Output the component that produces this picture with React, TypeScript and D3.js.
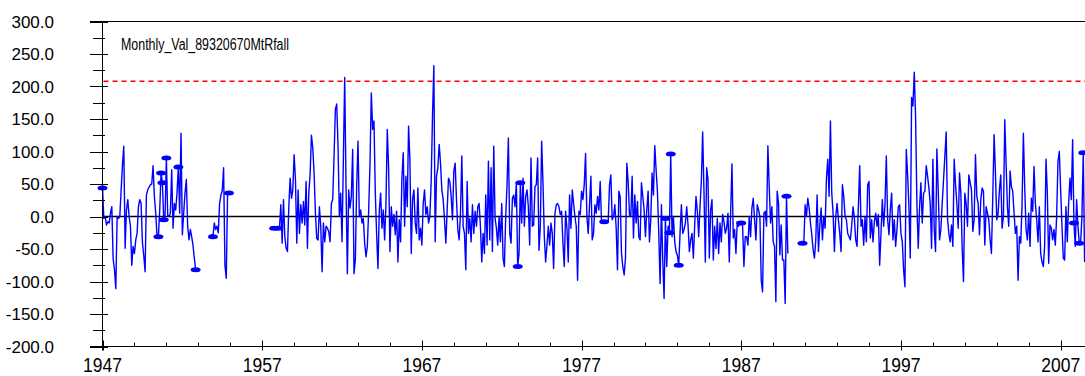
import React from "react";
import * as d3 from "d3";

// ---------- DATA ----------
const chartTitle = "Monthly_Val_89320670MtRfall";
const thresholdValue = 208;

const yLabelValues = [-200, -150, -100, -50, 0, 50, 100, 150, 200, 250, 300];
const xLabelYears = [1947, 1957, 1967, 1977, 1987, 1997, 2007];

// continuous runs of monthly values (start month, values)
const run1947Start = "1947-01";
const run1947Values = [
  44, -3, 0, -13, -8, -10, 5, 15, -65, -82, -111, 0,
  -3, 0, 40, 79, 108, -49, 10, 26, 0, -15, -75, -46,
  -57, -36, -26, 15, 26, 20, -40, -60, -85, 33, 41, 45,
  49, 50, 78, 30, 5, -31, -31, 10, 67, 52, -5, 0,
  90, 2, 0, 5, 72, -18, 20, 10, 36, 76, 5, 128,
  -28, 5, 36, 57, -15, -36, -20, -31, -44, -64, -82, -82,
];

const run1953Start = "1953-09";
const run1953Values = [-31, -31, -28, -31, -10, -20, -15, -25, 20, 33, 40, 75, -75, -95, 36, 36];

const run1957Start = "1957-08";
const run1957Values = [
  -18, -18, -18, -18, -18, -18, -18,
  18, -41, 26, -31, -49, -54, 15, 59, 28, 41, 95, 57, -41, 41, -26, 18, -10, 23, -13, 54, -49, 36, 64, 125,
  106, 67, 5, -34, -36, 15, -15, -85, -10, -39, -15, -18, -23, -39, 20, 26, 93, 165, 173, 108, 0, 36, -39, 88, 214,
  46, -88, 41, 13, 31, 103, -88, -67, 46, 116, 0, 10, -10, -3, -41, -62, -46, 8, 80, 190, 134, 147, 36, -28,
  -80, 10, 36, -18, 10, -36, 18, 134, 75, -54, 15, -15, 3, -28, 8, -70,
  -5,
  -39, 59, 98, -15, 62, 15, 139, 88, -57, 26, 41, -10, -26, 44, -36, -18, -44, 20, 41, 3, 15, -10, 0, 54, 157, 232, -39,
  62, 75, 111, 82, 41, 26, -5, -41, 10, 59, 54, 31, -5, 70, 82, 26, -20, -36, 5, 93, -15, -26, -82, 54, -26, -3,
  -39, 18, -26, 8, -15, 15, 20, -15, -70, -26, -57, 33, -44, 85, -36, 75, -54, 108, -3, -18, -44, 0, -39, 20, -64,
  -77, 0, 49, 121, -26, -41, 28, 33, 15, 52,
  -77, -57, 52, -10, 59, -15, 31, 41, 15, -44, 90, -15, -13, 46, 49, 90, -52, -15, 116, 52, -31, -70, -44, -15,
  -44, -10, -26, -80, 5, 18, 20, 15, 3, 8, -41, -77, 8, -18, -70, 33, -18, 41, 20, 0, -15, -98, 8, 3, 39, 26, 49,
  97, 0, -26, 18, 62, -36, -26, 18, 5, 31, 10, 54, -8, -8, -8, -8, -8, -8,
  49, 64, -5, 0, 18, -18, -82, 39, 31, -57, -77, -90, -64, 82, 54, 3, 0, 62, -33, 33, -10, 23, -31, -36, 52, 31,
  10, -31, 10, 39, -39, -5,
  67, 33, 109, 72, 39, -26, -103, 18, -67, -126, -3, -77, -15, -25, 96, -31, 0, -39, -54, -60, -75, -26, 18, -26,
  -20, -10, 15, -13, -54, -36, -26, -64, -13, 31, 8, -31, 15, 54, 130, 36, -70, 75, 57, -64, 10, 26, -67, -15, -49,
  -3, -57, -10, -39, 3, -8, -26, -18, 5, -70, 5, 81, -33, -20, -57, -8, -15, -10, -10, -15, -77, -31, -31, -44, 0,
  -31, 13, 28, -5, -36, 18, 10, 0, -98, -116, 5, 8, -15, 109, 46, -10, 15, -39, -46, -131, 39, 20, -59, -13, -67,
  -67, -134, 31, -57,
];

const run1990Start = "1990-11";
const run1990Values = [
  -41, -41, 18, 0, 28, 13, -10, -28, -51, -64, -36, 33, -54, -15, 13, -36, 0, -18, 59, 88, 31, 147, 36, 5, -54,
  0, 20, -5, -26, -54, 49, 31, 0, -5, -26, -31, -36, -13, 15, -3, -36, -46, 15, 78, -15, -5, -44, 0, -39, 49, 54,
  -33, -5, -39, -8, 5, -15, 3, -75, -26, 26, -15, 18, 93, -5, -28, 10, 36, -36, -5, -46, -20, 15, 18, -26, -39,
  -82, -108, 103, 64, 15,
  -64, 183, 170, 222, 152, 18, -49, 15, 52, -10, 36, 39, 78, 62, 44, 20, -49, 88, -20, -54, 104, 41, -36, -20, 20,
  57, 93, 130, -3, -26, -39, -13, -46, 88, 49, 20, -18, 67, 36, -49, -100, 36, 20, -15, 64, 52, 41, -23, -5, 95,
  31, 20, -28, 26, 44, 39, -44, 15, 5, -5, -36, -57, 31, 126, 67, -5, 5, 41, 64, -18, 0, 149, 82, 15, -15, 70, 46,
  39, 5, -26, -15, -98, -31, -41, 18, 128, 44, -20, -36, 5, -46, 28, 8, 77, 20, -5, -39, 15, -57, -70, -77, -44,
  88, 36, -72, -13, -18, -36, -20, -44, 0, 85, 100, 41, -15, -64, -67, 15, -39, 20, 59, 26, 118, -10, -46, 26,
  -15, -41, -41, 0, 98, -70,
];

// months that are drawn with a flag marker
const flaggedMonths = [
  "1947-01", "1950-07", "1950-09", "1950-10", "1950-11", "1951-01", "1951-10", "1952-11",
  "1953-12", "1954-12", "1957-10", "1958-01", "1973-01", "1973-03", "1978-06", "1982-04",
  "1982-07", "1982-08", "1983-02", "1987-01", "1989-11", "1990-11", "2007-11", "2008-03", "2008-06",
];

// ---------- HELPERS ----------
const monthToYear = (s: string) => {
  const [y, m] = s.split("-").map(Number);
  return y + (m - 1) / 12;
};

type Pt = { t: number; v: number; key: string };

const buildRun = (start: string, values: number[]): Pt[] => {
  const [y0, m0] = start.split("-").map(Number);
  return values.map((v, k) => {
    const idx = (m0 - 1) + k;
    const yy = y0 + Math.floor(idx / 12);
    const mm = (idx % 12) + 1;
    const key = `${yy}-${String(mm).padStart(2, "0")}`;
    return { t: monthToYear(key), v, key };
  });
};

const runs: Pt[][] = [
  buildRun(run1947Start, run1947Values),
  buildRun(run1953Start, run1953Values),
  buildRun(run1957Start, run1957Values),
  buildRun(run1990Start, run1990Values),
];

const W = 1085;
const H = 376;

export default function App() {
  const x = d3.scaleLinear().domain([1947, 2008.5]).range([102.5, 1084.6]);
  const y = d3.scaleLinear().domain([-200, 300]).range([346.5, 21.5]);
  const line = d3
    .line<Pt>()
    .x((d) => x(d.t))
    .y((d) => y(d.v));

  const allPts = runs.flat();
  const flagged = flaggedMonths
    .map((k) => allPts.find((p) => p.key === k))
    .filter((p): p is Pt => !!p);

  const axisX = x(1947);
  const axisBottom = y(-200);
  const axisTop = y(300);
  const yTicks = d3.range(-200, 301, 25);
  const xTicks = d3.range(1947, 2009, 2);
  const font = "'Liberation Sans', Arial, sans-serif";

  return (
    <div style={{ position: "absolute", left: 0, top: 0 }}>
      <svg width={W} height={H} style={{ display: "block", background: "#fff" }}>
        <rect x={0} y={0} width={W} height={H} fill="#fff" />
        {/* zero line */}
        <line x1={axisX} x2={W} y1={y(0)} y2={y(0)} stroke="#000" strokeWidth={1.5} />
        {/* threshold */}
        <line
          x1={axisX + 1}
          x2={W}
          y1={y(thresholdValue)}
          y2={y(thresholdValue)}
          stroke="#ff0000"
          strokeWidth={1.5}
          strokeDasharray="5,4"
        />
        {/* data */}
        <g>
          {runs.map((r, i) => (
            <path key={i} d={line(r) || ""} fill="none" stroke="#0000ff" strokeWidth={1.4} strokeLinejoin="round" />
          ))}
          {flagged.map((p) => (
            <ellipse key={p.key} cx={x(p.t)} cy={y(p.v)} rx={5} ry={2.5} fill="#0000ff" />
          ))}
        </g>
        {/* frame / axes */}
        <line x1={90} x2={W} y1={axisTop} y2={axisTop} stroke="#000" strokeWidth={1} />
        <line x1={90} x2={W} y1={axisBottom} y2={axisBottom} stroke="#000" strokeWidth={1} />
        <line x1={axisX} x2={axisX} y1={axisTop} y2={axisBottom + 4} stroke="#000" strokeWidth={1} />
        {yTicks.map((v) => {
          const major = v % 50 === 0;
          return (
            <line
              key={"yt" + v}
              x1={major ? 90 : 93}
              x2={major ? 108 : 105}
              y1={Math.round(y(v)) + 0.5}
              y2={Math.round(y(v)) + 0.5}
              stroke="#000"
              strokeWidth={1}
            />
          );
        })}
        {yLabelValues.map((v) => (
          <text
            key={"yl" + v}
            x={54}
            y={y(v) + 6.3}
            textAnchor="end"
            fontFamily={font}
            fontSize={17}
            fill="#000"
          >
            {v.toFixed(1)}
          </text>
        ))}
        {xTicks.map((t) => {
          const major = (t - 1947) % 10 === 0;
          const xx = Math.round(x(t)) + 0.5;
          return (
            <line
              key={"xt" + t}
              x1={xx}
              x2={xx}
              y1={major ? axisBottom - 6 : axisBottom - 4}
              y2={major ? axisBottom + 4 : axisBottom}
              stroke="#000"
              strokeWidth={1}
            />
          );
        })}
        {xLabelYears.map((t) => (
          <text
            key={"xl" + t}
            transform={`translate(${x(t)},372) scale(1,1.15)`}
            textAnchor="middle"
            fontFamily={font}
            fontSize={17.5}
            fill="#000"
          >
            {t}
          </text>
        ))}
        <text
          x={121}
          y={50}
          fontFamily={font}
          fontSize={16}
          textLength={168}
          lengthAdjust="spacingAndGlyphs"
          fill="#000"
        >
          {chartTitle}
        </text>
      </svg>
    </div>
  );
}
